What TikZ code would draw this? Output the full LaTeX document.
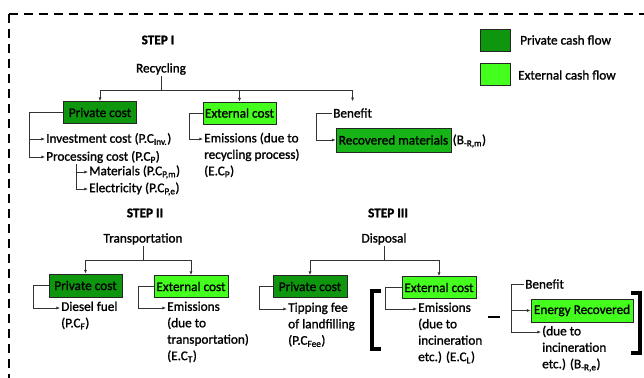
\documentclass[tikz,border=0pt]{standalone}
\usepackage{fontspec}
\setmainfont{Carlito}[FakeBold=1.3]
\usetikzlibrary{arrows.meta}
\definecolor{pgreen}{HTML}{0E960E}
\definecolor{egreen}{HTML}{44FF1E}
\definecolor{rgreen}{HTML}{16B416}
\begin{document}
\begin{tikzpicture}[x=1bp,y=-1bp,
  every node/.style={font=\fontsize{13.3}{16.5}\selectfont, inner sep=1bp},
  box/.style={draw=black!85, line width=1bp, minimum height=22bp, inner sep=0pt},
  pbox/.style={box, fill=pgreen},
  ebox/.style={box, fill=egreen},
  hd/.style={font=\fontsize{13.3}{16.5}\selectfont\bfseries},
  ml/.style={align=left, anchor=north west},
  conn/.style={draw=black!80, line width=0.8bp},
  arr/.style={conn, -{Latex[length=3.6bp,width=3.2bp]}},
  brk/.style={line width=3.6bp, line cap=butt}]

\useasboundingbox (0,0) rectangle (644,377);
\begin{scope}
\clip (0,0) rectangle (644,377);
\draw[line width=2.4bp, dash pattern=on 9bp off 6bp] (9,14) rectangle (700,430);
\end{scope}

% legend
\node[box, fill=pgreen, minimum width=30bp] (lp) at (495,40) {};
\node[anchor=west] (lpt) at (519,40) {Private cash flow};
\node[box, fill=egreen, minimum width=30bp] (le) at (495,74) {};
\node[anchor=west] (let) at (517,75) {External cash flow};

% STEP I
\node[hd] (s1) at (158,40) {STEP I};
\node (rec) at (161,69) {Recycling};
\node[pbox, minimum width=73bp] (pc1) at (100,112.5) {Private cost};
\node[ebox, minimum width=73bp] (ec1) at (239.5,113) {External cost};
\node[anchor=west] (ben1) at (332,113) {Benefit};
\node[box, fill=rgreen, minimum width=115bp, minimum height=24bp] (rm) at (393.5,140) {Recovered materials};
\node[anchor=west, inner sep=0.5bp] (brm) at (452,141) {(B\textsubscript{-R,m})};

\draw[arr] (rec.south) -- ++(0,14) -| (pc1.north);
\draw[arr] (rec.south) -- ++(0,14) -| (ec1.north);
\draw[arr, shorten >=6bp] (rec.south) -- ++(0,14) -| (ben1.north);

\node[anchor=west] (inv) at (45,139) {Investment cost (P.C\textsubscript{Inv.})};
\node[anchor=west] (proc) at (45,157) {Processing cost (P.C\textsubscript{P})};
\node[anchor=west] (mat) at (88,172) {Materials (P.C\textsubscript{P,m})};
\node[anchor=west] (ele) at (88,189) {Electricity (P.C\textsubscript{P,e})};
\draw[arr] (pc1.west) -- ++(-34,0) |- (inv.west);
\draw[arr] (pc1.west) -- ++(-34,0) |- (proc.west);
\draw[arr] ([xshift=31bp]proc.south west) |- (mat.west);
\draw[arr] ([xshift=31bp]proc.south west) |- (ele.west);

\node[ml] (em1) at (203,131.5) {Emissions (due to\\recycling process)\\(E.C\textsubscript{P})};
\draw[arr] (ec1.west) -- ++(-13,0) |- ([yshift=-7.5bp]em1.north west);
\draw[arr] (ben1.west) -- ++(-16,0) |- (rm.west);

% STEP II
\node[hd] (s2) at (145,213) {STEP II};
\node (tr) at (143,239) {Transportation};
\node[pbox, minimum width=73bp, minimum height=23bp] (pc2) at (85.5,285.5) {Private cost};
\node[ebox, minimum width=74bp] (ec2) at (191,286.5) {External cost};
\draw[arr] (tr.south) -- ++(0,15) -| (pc2.north);
\draw[arr] (tr.south) -- ++(0,15) -| (ec2.north);
\node[ml] (df) at (60,300.5) {Diesel fuel\\(P.C\textsubscript{F})};
\draw[arr] (pc2.west) -- ++(-15,0) |- ([yshift=-7.5bp]df.north west);
\node[ml] (em2) at (166,300.5) {Emissions\\(due to\\transportation)\\(E.C\textsubscript{T})};
\draw[arr] (ec2.west) -- ++(-15,0) |- ([yshift=-7.5bp]em2.north west);

% STEP III
\node[hd] (s3) at (388,213) {STEP III};
\node (disp) at (384,239) {Disposal};
\node[pbox, minimum width=74bp] (pc3) at (310,286.5) {Private cost};
\node[ebox, minimum width=74bp] (ec3) at (439,287.5) {External cost};
\draw[arr] (disp.south) -- ++(0,15) -| (pc3.north);
\draw[arr] (disp.south) -- ++(0,15) -| (ec3.north);
\node[ml] (tip) at (287,301.5) {Tipping fee\\of landfilling\\(P.C\textsubscript{Fee})};
\draw[arr] (pc3.west) -- ++(-13,0) |- ([yshift=-7.5bp]tip.north west);
\node[ml] (em3) at (417,301.5) {Emissions\\(due to\\incineration\\etc.) (E.C\textsubscript{L})};
\draw[arr] (ec3.west) -- ++(-16,0) |- ([yshift=-7.5bp]em3.north west);
\draw[brk] (381,291) -- (372,291) -- (372,349) -- (381,349);
\draw[line width=2.6bp] (488,317) -- (500,317);
\node[anchor=west] (ben2) at (524,284) {Benefit};
\node[ebox, minimum width=102bp, minimum height=23bp] (er) at (582,310.5) {Energy Recovered};
\node[ml] (rb) at (541,324.5) {(due to\\incineration\\etc.) (B\textsubscript{-R,e})};
\draw[arr] (ben2.west) -- ++(-13,0) |- (er.west);
\draw[arr] (ben2.west) -- ++(-13,0) |- ([yshift=-7.5bp]rb.north west);
\draw[brk] (631,293) -- (640,293) -- (640,353) -- (631,353);
\end{tikzpicture}
\end{document}
